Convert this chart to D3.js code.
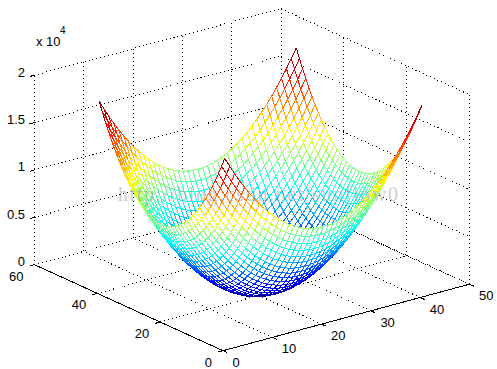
<!DOCTYPE html>
<meta charset="utf-8">
<title>mesh</title>
<style>
html, body { margin: 0; background: #fff; }
svg { display: block; }
text { font-family: "Liberation Sans", Arial, sans-serif; font-size: 13px; fill: #000; }
.watermark { font-family: "Liberation Serif", serif; font-size: 20px; fill: #999; fill-opacity: .5; }
</style>
<body>
<script src="https://d3js.org/d3.v7.min.js"></script>
<script>

var xTicks = [0, 10, 20, 30, 40, 50];
var yTicks = [0, 20, 40, 60];
var zTicks = [0, 5000, 10000, 15000, 20000];
var zTickLabels = ["0", "0.5", "1", "1.5", "2"];

// mesh positions along x and y, and which row of the quarter table each one reads
var meshPos = [1,2,3,4,5,6,7,8,9,10,11,12,13,14,15,16,17,18,19,20,21,22,23,24,25,26,27,28,29,30,31,32,33,34,35,36,37,38,39,40,41];
var meshRow = [20,19,18,17,16,15,14,13,12,11,10,9,8,7,6,5,4,3,2,1,0,1,2,3,4,5,6,7,8,9,10,11,12,13,14,15,16,17,18,19,20];

// the bowl is symmetric, so one quarter of the surface heights is enough
var zQuarter = [
  [0,25,100,225,400,625,900,1225,1600,2025,2500,3025,3600,4225,4900,5625,6400,7225,8100,9025,10000],
  [25,50,125,250,425,650,925,1250,1625,2050,2525,3050,3625,4250,4925,5650,6425,7250,8125,9050,10025],
  [100,125,200,325,500,725,1000,1325,1700,2125,2600,3125,3700,4325,5000,5725,6500,7325,8200,9125,10100],
  [225,250,325,450,625,850,1125,1450,1825,2250,2725,3250,3825,4450,5125,5850,6625,7450,8325,9250,10225],
  [400,425,500,625,800,1025,1300,1625,2000,2425,2900,3425,4000,4625,5300,6025,6800,7625,8500,9425,10400],
  [625,650,725,850,1025,1250,1525,1850,2225,2650,3125,3650,4225,4850,5525,6250,7025,7850,8725,9650,10625],
  [900,925,1000,1125,1300,1525,1800,2125,2500,2925,3400,3925,4500,5125,5800,6525,7300,8125,9000,9925,10900],
  [1225,1250,1325,1450,1625,1850,2125,2450,2825,3250,3725,4250,4825,5450,6125,6850,7625,8450,9325,10250,11225],
  [1600,1625,1700,1825,2000,2225,2500,2825,3200,3625,4100,4625,5200,5825,6500,7225,8000,8825,9700,10625,11600],
  [2025,2050,2125,2250,2425,2650,2925,3250,3625,4050,4525,5050,5625,6250,6925,7650,8425,9250,10125,11050,12025],
  [2500,2525,2600,2725,2900,3125,3400,3725,4100,4525,5000,5525,6100,6725,7400,8125,8900,9725,10600,11525,12500],
  [3025,3050,3125,3250,3425,3650,3925,4250,4625,5050,5525,6050,6625,7250,7925,8650,9425,10250,11125,12050,13025],
  [3600,3625,3700,3825,4000,4225,4500,4825,5200,5625,6100,6625,7200,7825,8500,9225,10000,10825,11700,12625,13600],
  [4225,4250,4325,4450,4625,4850,5125,5450,5825,6250,6725,7250,7825,8450,9125,9850,10625,11450,12325,13250,14225],
  [4900,4925,5000,5125,5300,5525,5800,6125,6500,6925,7400,7925,8500,9125,9800,10525,11300,12125,13000,13925,14900],
  [5625,5650,5725,5850,6025,6250,6525,6850,7225,7650,8125,8650,9225,9850,10525,11250,12025,12850,13725,14650,15625],
  [6400,6425,6500,6625,6800,7025,7300,7625,8000,8425,8900,9425,10000,10625,11300,12025,12800,13625,14500,15425,16400],
  [7225,7250,7325,7450,7625,7850,8125,8450,8825,9250,9725,10250,10825,11450,12125,12850,13625,14450,15325,16250,17225],
  [8100,8125,8200,8325,8500,8725,9000,9325,9700,10125,10600,11125,11700,12325,13000,13725,14500,15325,16200,17125,18100],
  [9025,9050,9125,9250,9425,9650,9925,10250,10625,11050,11525,12050,12625,13250,13925,14650,15425,16250,17125,18050,19025],
  [10000,10025,10100,10225,10400,10625,10900,11225,11600,12025,12500,13025,13600,14225,14900,15625,16400,17225,18100,19025,20000]
];

var width = 497, height = 369;

// oblique box: each data axis moves the point both across and up the page
var xAcross = d3.scaleLinear().domain([0, 50]).range([223, 469.5]);
var yAcross = d3.scaleLinear().domain([0, 60]).range([0, -188.5]);
var xDown = d3.scaleLinear().domain([0, 50]).range([350.7, 284.2]);
var yDown = d3.scaleLinear().domain([0, 60]).range([0, -86]);
var zDown = d3.scaleLinear().domain([0, 20000]).range([0, -189.5]);

function project(x, y, z) {
  return [xAcross(x) + yAcross(y), xDown(x) + yDown(y) + zDown(z)];
}

var line = d3.line();

// jet colormap, 64 steps like matlab
var jet = d3.scaleLinear()
    .domain([0, 0.125, 0.375, 0.625, 0.875, 1])
    .range(["#00008f", "#0000ff", "#00ffff", "#ffff00", "#ff0000", "#800000"]);

function zColor(z) {
  return jet(Math.min(Math.floor(z / 20000 * 64), 63) / 63);
}

var svg = d3.select("body").append("svg")
    .attr("width", width)
    .attr("height", height)
    .attr("shape-rendering", "crispEdges");

// dotted grid on the floor and the two back walls
var gridLines = [];
xTicks.forEach(function(t) {
  gridLines.push([[t, 0, 0], [t, 60, 0]]);
  gridLines.push([[t, 60, 0], [t, 60, 20000]]);
});
yTicks.forEach(function(t) {
  gridLines.push([[0, t, 0], [50, t, 0]]);
  gridLines.push([[50, t, 0], [50, t, 20000]]);
});
zTicks.forEach(function(t) {
  gridLines.push([[0, 60, t], [50, 60, t]]);
  gridLines.push([[50, 60, t], [50, 0, t]]);
});

svg.append("g").selectAll("path")
    .data(gridLines)
  .join("path")
    .attr("d", function(d) { return line(d.map(function(p) { return project(p[0], p[1], p[2]); })); })
    .attr("fill", "none")
    .attr("stroke", "#000")
    .attr("stroke-dasharray", "1,3");

// mesh, painted from the back corner forwards so white faces hide what is behind
function meshZ(i, j) {
  return zQuarter[meshRow[i]][meshRow[j]];
}
function vertex(i, j) {
  return project(meshPos[i], meshPos[j], meshZ(i, j));
}

var marks = [];
for (var i = meshPos.length - 2; i >= 0; i--) {
  for (var j = meshPos.length - 2; j >= 0; j--) {
    marks.push({points: [vertex(i, j), vertex(i + 1, j), vertex(i + 1, j + 1), vertex(i, j + 1)], face: true});
    [[i, j, i + 1, j], [i + 1, j, i + 1, j + 1], [i, j + 1, i + 1, j + 1], [i, j, i, j + 1]].forEach(function(e) {
      marks.push({
        points: [vertex(e[0], e[1]), vertex(e[2], e[3])],
        z: (meshZ(e[0], e[1]) + meshZ(e[2], e[3])) / 2
      });
    });
  }
}

svg.append("g").selectAll("path")
    .data(marks)
  .join("path")
    .attr("d", function(d) { return line(d.points) + (d.face ? "Z" : ""); })
    .attr("fill", function(d) { return d.face ? "#fff" : "none"; })
    .attr("stroke", function(d) { return d.face ? "none" : zColor(d.z); });

// solid axes and tick marks
var axisLines = [[[0, 0, 0], [50, 0, 0]], [[0, 0, 0], [0, 60, 0]]];
xTicks.forEach(function(t) { axisLines.push([[t, 0, 0], [t, -1.4, 0]]); });
yTicks.forEach(function(t) { axisLines.push([[0, t, 0], [-1, t, 0]]); });
zTicks.forEach(function(t) { axisLines.push([[0, 60, t], [-1, 60, t]]); });

svg.append("g").selectAll("path")
    .data(axisLines)
  .join("path")
    .attr("d", function(d) { return line(d.map(function(p) { return project(p[0], p[1], p[2]); })); })
    .attr("fill", "none")
    .attr("stroke", "#000");

svg.append("g").selectAll("text")
    .data(xTicks)
  .join("text")
    .attr("x", function(d) { return project(d, 0, 0)[0] + 9.5; })
    .attr("y", function(d) { return project(d, 0, 0)[1] + 16; })
    .text(function(d) { return d; });

svg.append("g").selectAll("text")
    .data(yTicks)
  .join("text")
    .attr("x", function(d) { return project(0, d, 0)[0] - 11; })
    .attr("y", function(d) { return project(0, d, 0)[1] + 16; })
    .attr("text-anchor", "end")
    .text(function(d) { return d; });

svg.append("g").selectAll("text")
    .data(zTicks)
  .join("text")
    .attr("x", function(d) { return project(0, 60, d)[0] - 9.5; })
    .attr("y", function(d) { return project(0, 60, d)[1] + 1.5; })
    .attr("text-anchor", "end")
    .text(function(d, i) { return zTickLabels[i]; });

svg.append("text").attr("x", 36).attr("y", 46).text("x 10");
svg.append("text").attr("x", 60).attr("y", 34).style("font-size", "10px").text("4");

svg.append("text")
    .attr("class", "watermark")
    .attr("x", 118)
    .attr("y", 201)
    .attr("textLength", 280)
    .text("http://blog.csdn.net/sunflow0");

</script>
</body>
